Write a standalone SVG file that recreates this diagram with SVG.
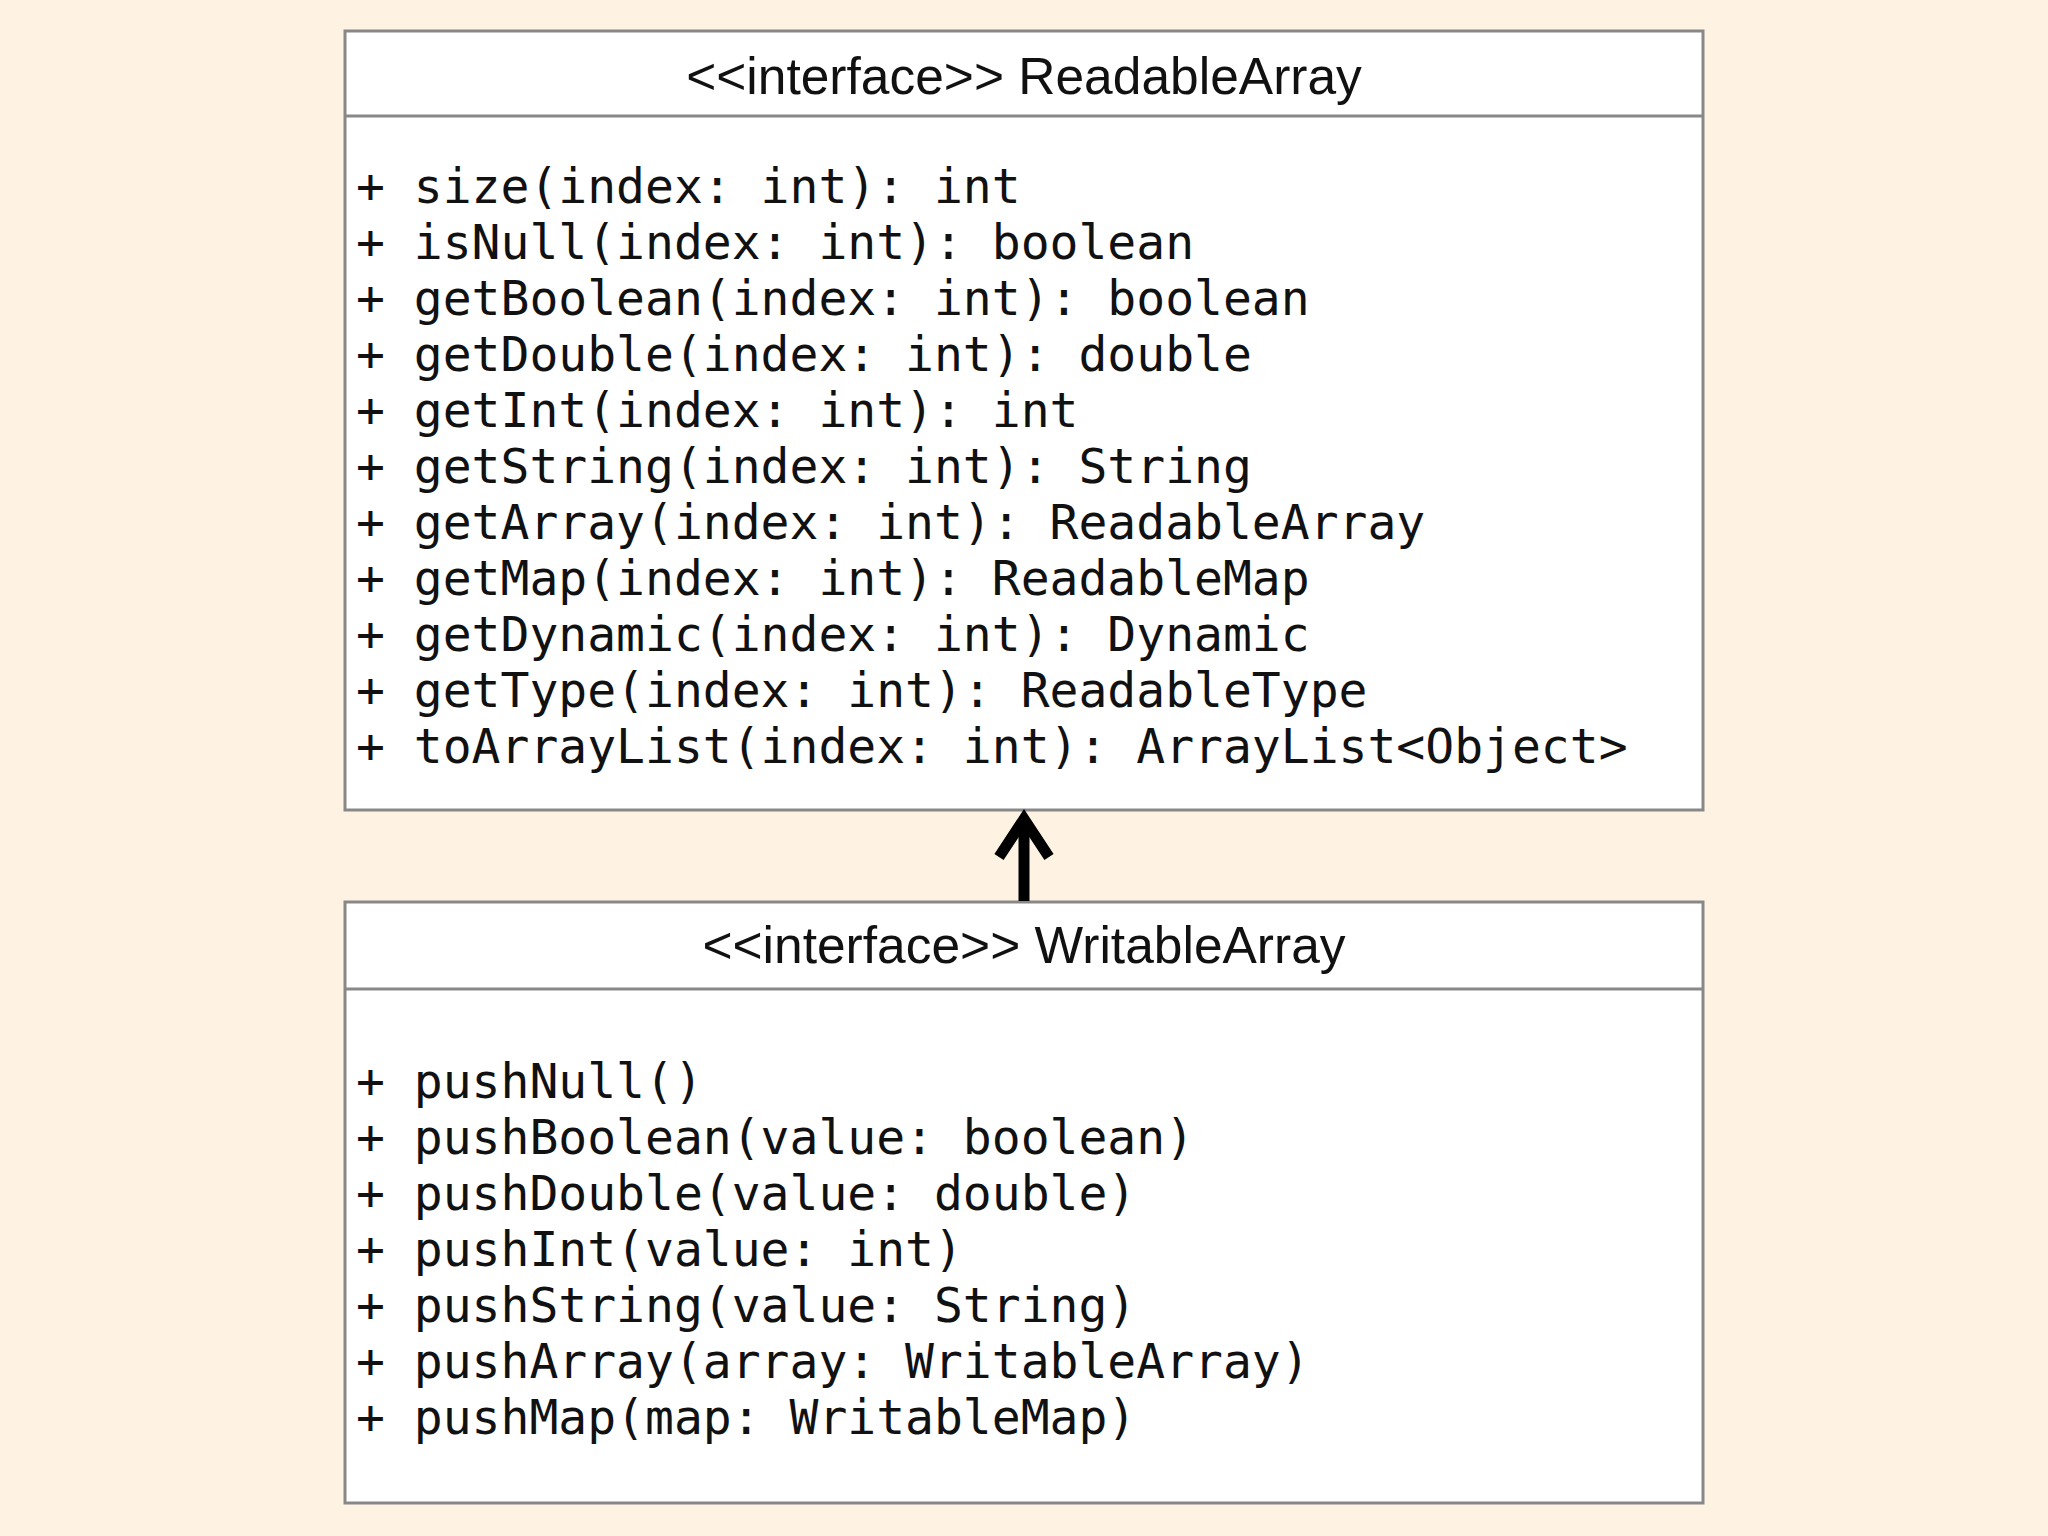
<svg xmlns="http://www.w3.org/2000/svg" width="2048" height="1536" viewBox="0 0 2048 1536">
<style>
.box{fill:#ffffff;stroke:#888888;stroke-width:3}
.div{stroke:#888888;stroke-width:3}
.hdr{font-family:"Liberation Sans",Arial,sans-serif;font-size:51.5px;fill:#111111;text-anchor:middle}
.mem{font-family:"DejaVu Sans Mono","Liberation Mono",monospace;font-size:48px;fill:#111111;white-space:pre}
.conn{stroke:#000000;stroke-width:11;fill:none}
</style>
<rect x="0" y="0" width="2048" height="1536" fill="#FEF3E2"/>
<g id="ReadableArray">
<rect class="box" x="345" y="31" width="1358" height="779"/>
<line class="div" x1="345" y1="116" x2="1703" y2="116"/>
<text class="hdr" x="1024" y="94">&lt;&lt;interface&gt;&gt; ReadableArray</text>
<text class="mem" x="356" y="203">+ size(index: int): int</text>
<text class="mem" x="356" y="259">+ isNull(index: int): boolean</text>
<text class="mem" x="356" y="315">+ getBoolean(index: int): boolean</text>
<text class="mem" x="356" y="371">+ getDouble(index: int): double</text>
<text class="mem" x="356" y="427">+ getInt(index: int): int</text>
<text class="mem" x="356" y="483">+ getString(index: int): String</text>
<text class="mem" x="356" y="539">+ getArray(index: int): ReadableArray</text>
<text class="mem" x="356" y="595">+ getMap(index: int): ReadableMap</text>
<text class="mem" x="356" y="651">+ getDynamic(index: int): Dynamic</text>
<text class="mem" x="356" y="707">+ getType(index: int): ReadableType</text>
<text class="mem" x="356" y="763">+ toArrayList(index: int): ArrayList&lt;Object&gt;</text>
</g>
<g id="WritableArray">
<rect class="box" x="345" y="902" width="1358" height="601"/>
<line class="div" x1="345" y1="989" x2="1703" y2="989"/>
<text class="hdr" x="1024" y="963">&lt;&lt;interface&gt;&gt; WritableArray</text>
<text class="mem" x="356" y="1098">+ pushNull()</text>
<text class="mem" x="356" y="1154">+ pushBoolean(value: boolean)</text>
<text class="mem" x="356" y="1210">+ pushDouble(value: double)</text>
<text class="mem" x="356" y="1266">+ pushInt(value: int)</text>
<text class="mem" x="356" y="1322">+ pushString(value: String)</text>
<text class="mem" x="356" y="1378">+ pushArray(array: WritableArray)</text>
<text class="mem" x="356" y="1434">+ pushMap(map: WritableMap)</text>
</g>
<g id="connectors">
<line class="conn" x1="1024" y1="901" x2="1024" y2="819"/>
<polyline class="conn" points="999,857 1024,819 1049,857" stroke-linejoin="miter"/>
</g>
</svg>
